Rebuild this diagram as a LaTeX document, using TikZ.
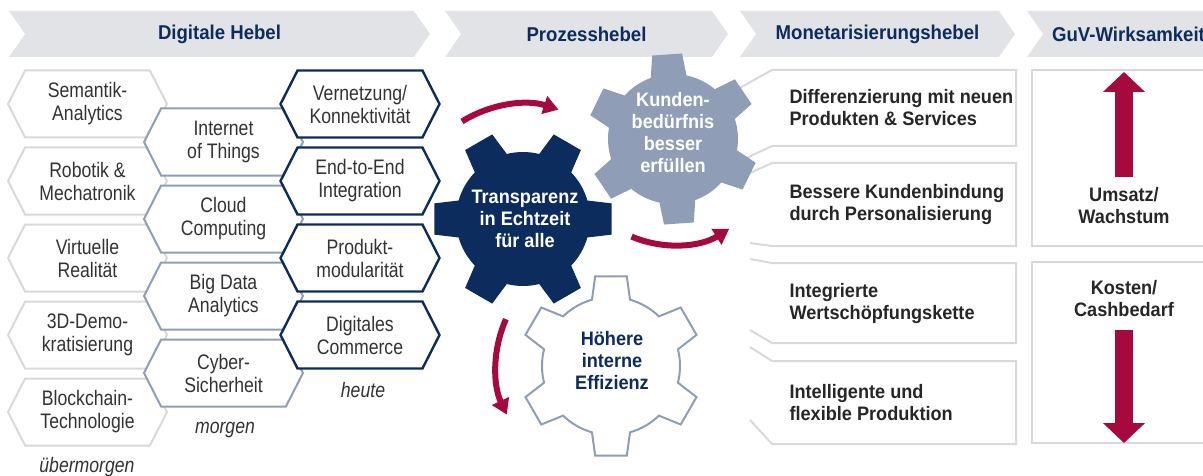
\documentclass[tikz,border=0pt]{standalone}
\usepackage{fontspec}
\setmainfont{Liberation Sans}[FakeStretch=0.84]
\newfontfamily\boldcond{Liberation Sans}[FakeStretch=0.93]
\usetikzlibrary{shapes.symbols,arrows.meta}
\definecolor{navy}{RGB}{12,44,94}
\definecolor{steel}{RGB}{143,157,182}
\definecolor{lightline}{RGB}{217,217,217}
\definecolor{headgray}{RGB}{225,227,230}
\definecolor{crimson}{RGB}{166,9,61}
\definecolor{textgray}{RGB}{51,51,51}
% gear outline: rotation, body radius, tip radius
\newcommand{\gearpath}[3]{({#1+16}:#2) \foreach \k in {0,...,5}{
    arc[start angle={#1+60*\k+16}, end angle={#1+60*\k+44}, radius=#2]
    -- ({#1+60*\k+50}:#3) -- ({#1+60*\k+70}:#3) -- ({#1+60*\k+76}:#2)} -- cycle}
\tikzset{
  hebelhead/.style={shape=signal, signal from=west, signal to=east, signal pointer angle=110,
    fill=headgray, minimum height=46pt, inner sep=0pt, text=navy,
    font=\boldcond\bfseries\fontsize{20}{22}\selectfont},
  hex/.style={shape=signal, signal to=east and west, signal pointer angle=126,
    minimum width=159pt, minimum height=67pt, inner sep=0pt, fill=white, align=center,
    text=textgray, font=\fontsize{21}{23}\selectfont},
  hexold/.style={hex, draw=lightline, line width=2pt},
  hexnew/.style={hex, draw=steel, line width=2pt},
  hexnow/.style={hex, draw=navy, line width=2.4pt},
  timelabel/.style={text=textgray, font=\itshape\fontsize{21}{23}\selectfont},
  geartext/.style={align=center, font=\boldcond\bfseries\fontsize{19.5}{22}\selectfont},
  lever/.style={anchor=west, align=left, text=black!85,
    font=\boldcond\bfseries\fontsize{19.5}{22}\selectfont},
  boxline/.style={draw=lightline, line width=2pt},
  cyclearrow/.style={draw=crimson, line width=6pt, -{Triangle[length=15pt,width=18pt]}},
  bigarrow/.style={draw=crimson, line width=18pt, -{Triangle[length=20pt,width=41pt]}},
}
\begin{document}
\begin{tikzpicture}[x=1pt,y=1pt]
\useasboundingbox (0,0) rectangle (1203,475);

% headers
\node[hebelhead, minimum width=421pt] (digital) at (219.5,441) {Digitale Hebel};
\node[hebelhead, minimum width=283pt] (prozess) at (586.5,441) {Prozesshebel};
\node[hebelhead, minimum width=275pt] (monetar) at (877.5,441) {Monetarisierungshebel};
\node[hebelhead, minimum width=203pt] (guv) at (1128.5,441) {GuV-Wirksamkeit};

% hexagons
\node[hexold] (semantik) at (87.5,371) {Semantik-\\Analytics};
\node[hexold] (robotik) at (87.5,294) {Robotik \&\\Mechatronik};
\node[hexold] (virtuell) at (87.5,217) {Virtuelle\\Realität};
\node[hexold] (demo) at (87.5,140) {3D-Demo-\\kratisierung};
\node[hexold] (block) at (87.5,63) {Blockchain-\\Technologie};
\node[hexnew] (iot) at (223.5,333) {Internet\\of Things};
\node[hexnew] (cloud) at (223.5,256) {Cloud\\Computing};
\node[hexnew] (bigdata) at (223.5,179) {Big Data\\Analytics};
\node[hexnew] (cyber) at (223.5,102) {Cyber-\\Sicherheit};
\node[hexnow] (vernetz) at (360,371) {Vernetzung/\\Konnektivität};
\node[hexnow] (endtoend) at (360,294) {End-to-End\\Integration};
\node[hexnow] (modular) at (360,217) {Produkt-\\modularität};
\node[hexnow] (commerce) at (360,140) {Digitales\\Commerce};
\node[timelabel] (uebermorgen) at (87,8) {übermorgen};
\node[timelabel] (morgen) at (225,45) {morgen};
\node[timelabel] (heute) at (363,85) {heute};

% boxes
\draw[boxline] (738,386) -- (772,405) -- (1016,405) -- (1016,329) -- (772,329) -- (740,314);
\draw[boxline] (750,302) -- (772,312) -- (1016,312) -- (1016,229) -- (772,229) -- (750,232);
\draw[boxline] (750,216) -- (772,212) -- (1016,212) -- (1016,132) -- (772,132) -- (750,145);
\draw[boxline] (750,128) -- (772,114) -- (1016,114) -- (1016,31) -- (772,31) -- (750,55);
\draw[boxline] (1215,405) -- (1032,405) -- (1032,229) -- (1215,229);
\draw[boxline] (1215,213) -- (1032,213) -- (1032,32) -- (1215,32);

% gears
\coordinate (transgear) at (523,256);
\coordinate (kundegear) at (673,336);
\coordinate (effizgear) at (611,109);
\draw[fill=steel, draw=none, shift={(kundegear)}] \gearpath{34}{65}{86};
\draw[fill=navy, draw=none, shift={(transgear)}] \gearpath{0}{67}{90};
\draw[fill=white, draw=steel, line width=2pt, shift={(effizgear)}] \gearpath{30}{69}{91};
\node[geartext, text=white] (transtext) at (525,256) {Transparenz\\in Echtzeit\\für alle};
\node[geartext, text=white] (kundetext) at (673,342) {Kunden-\\bedürfnis\\besser\\erfüllen};
\node[geartext, text=navy] (effiztext) at (612,114) {Höhere\\interne\\Effizienz};

% turning arrows
\draw[cyclearrow] ([shift={(122:115)}]transgear) arc[start angle=122, end angle=72, radius=115];
\draw[cyclearrow] ([shift={(247:106)}]kundegear) arc[start angle=247, end angle=302, radius=106];
\draw[cyclearrow] ([shift={(156:115)}]effizgear) arc[start angle=156, end angle=205, radius=115];

% levers
\node[lever] (differenz) at (786,367) {Differenzierung mit neuen\\Produkten \& Services};
\node[lever] (kundenbind) at (786,270.5) {Bessere Kundenbindung\\durch Personalisierung};
\node[lever] (wertschoepf) at (786,172) {Integrierte\\Wertschöpfungskette};
\node[lever] (produktion) at (786,72.5) {Intelligente und\\flexible Produktion};

% P&L
\coordinate (upfoot) at (1124,298);
\coordinate (uptip) at (1124,403);
\coordinate (downfoot) at (1124,145);
\coordinate (downtip) at (1124,32);
\draw[bigarrow] (upfoot) -- (uptip);
\draw[bigarrow] (downfoot) -- (downtip);
\node[geartext, text=black!85] (umsatz) at (1124,269) {Umsatz/\\Wachstum};
\node[geartext, text=black!85] (kosten) at (1124,176) {Kosten/\\Cashbedarf};
\end{tikzpicture}
\end{document}
